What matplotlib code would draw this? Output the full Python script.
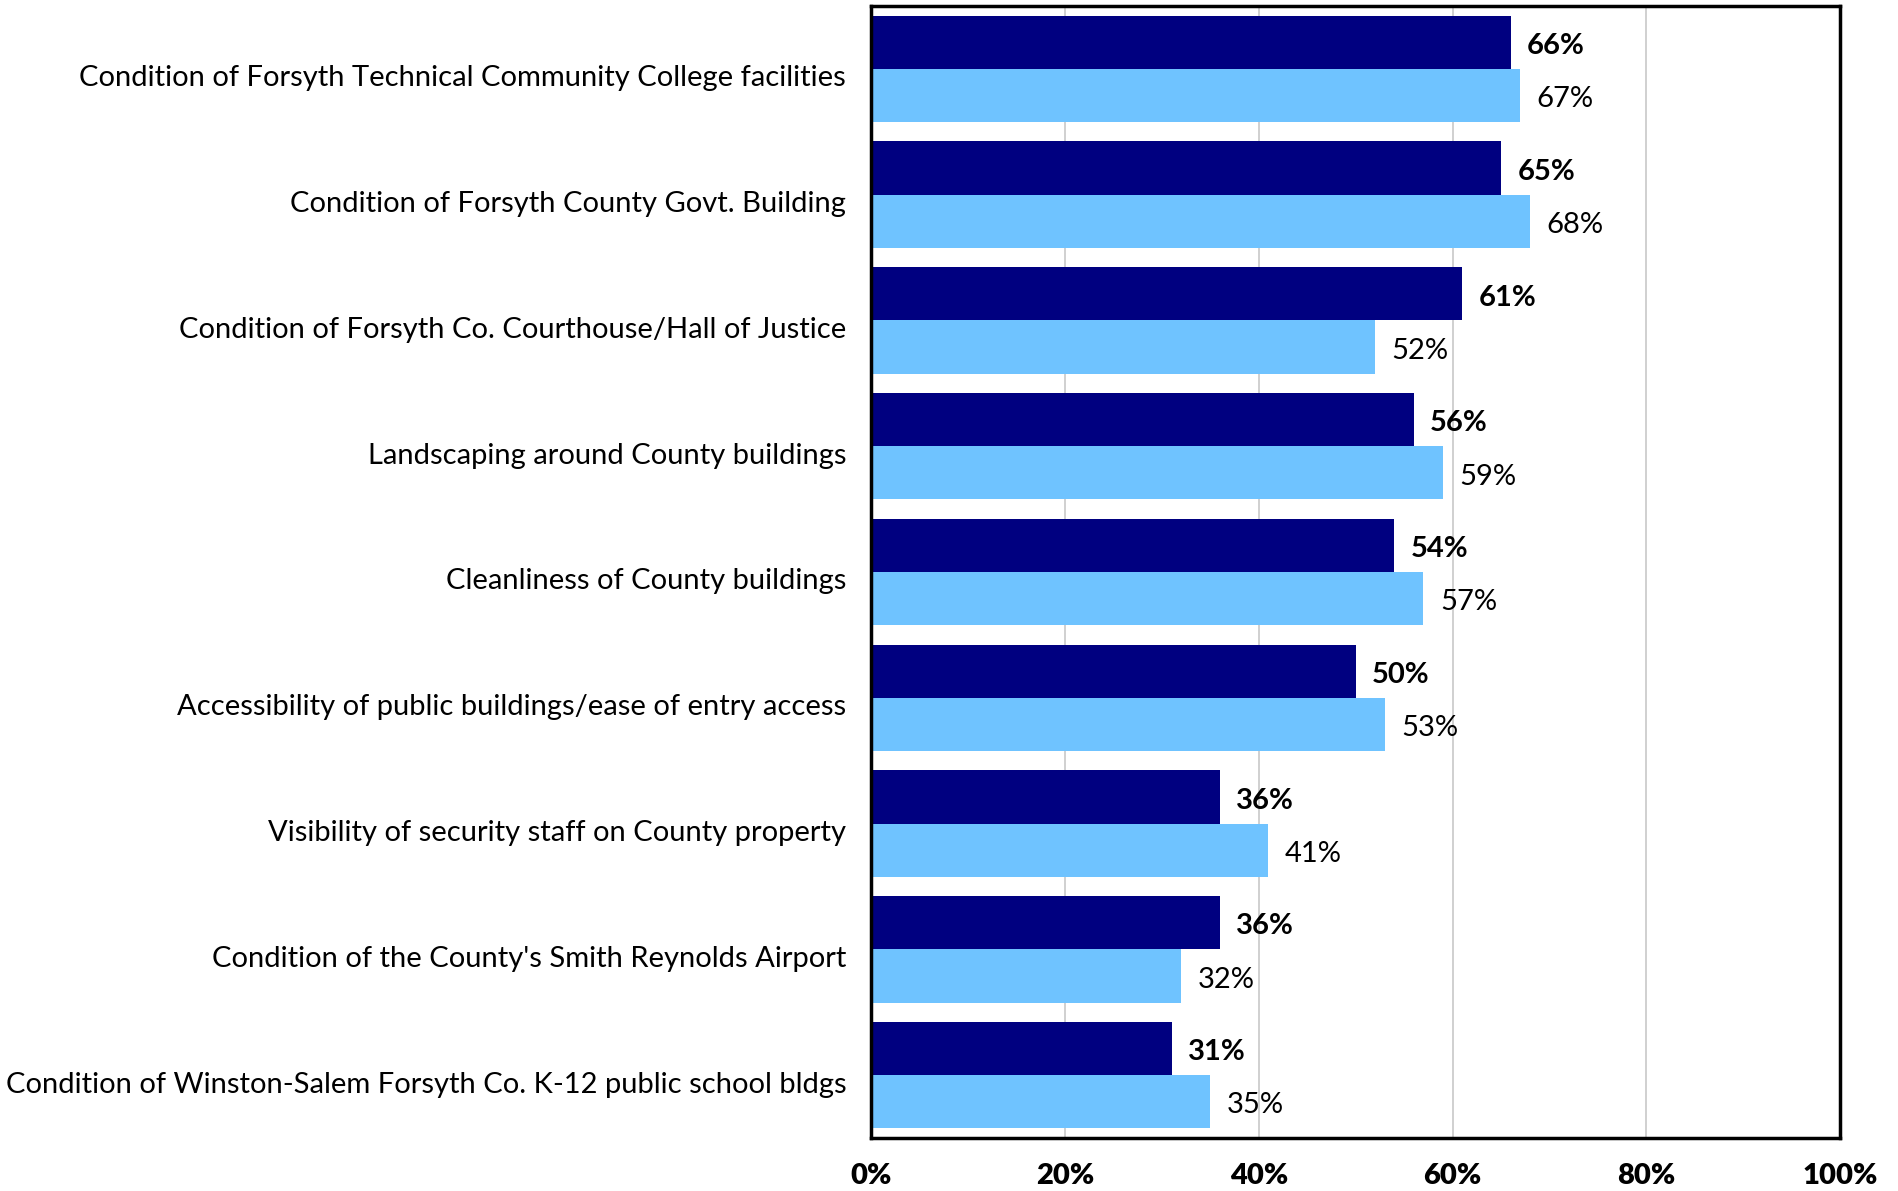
import numpy as np
import matplotlib.pyplot as plt

categories = [
    "Condition of Forsyth Technical Community College facilities",
    "Condition of Forsyth County Govt. Building",
    "Condition of Forsyth Co. Courthouse/Hall of Justice",
    "Landscaping around County buildings",
    "Cleanliness of County buildings",
    "Accessibility of public buildings/ease of entry access",
    "Visibility of security staff on County property",
    "Condition of the County's Smith Reynolds Airport",
    "Condition of Winston-Salem Forsyth Co. K-12 public school bldgs",
]
dark_vals = [66, 65, 61, 56, 54, 50, 36, 36, 31]
light_vals = [67, 68, 52, 59, 57, 53, 41, 32, 35]
xticks = [0, 20, 40, 60, 80, 100]

plt.rcParams['font.family'] = ['Lato', 'DejaVu Sans']

fig = plt.figure(figsize=(18.98, 11.91), dpi=100)
ax = fig.add_axes([0.459, 0.0445, 0.5105, 0.9505])

n = len(categories)
y = np.arange(n)[::-1].astype(float)
h = 0.423

ax.barh(y + h / 2, dark_vals, height=h, color='#000080', zorder=2)
ax.barh(y - h / 2, light_vals, height=h, color='#6FC3FF', zorder=2)

# small downward nudge so the text sits on the bar centre
dy = 0.03
for yi, d, l in zip(y, dark_vals, light_vals):
    ax.text(d + 1.7, yi + h / 2 - dy, f"{d}%", va='center', ha='left',
            fontsize=21, fontweight='bold', color='black')
    ax.text(l + 1.7, yi - h / 2 - dy, f"{l}%", va='center', ha='left',
            fontsize=21, color='black')

ax.set_xlim(0, 100)
ax.set_ylim(-0.5, n - 0.5)
ax.set_xticks(xticks)
ax.set_xticklabels([f"{t}%" for t in xticks], fontsize=21, fontweight='heavy')
ax.set_yticks(y - 0.055)
ax.set_yticklabels(categories, fontsize=21)
ax.tick_params(axis='both', length=0)
ax.tick_params(axis='y', pad=18)
ax.tick_params(axis='x', pad=18)
ax.xaxis.grid(True, color='#c8c8c8', linewidth=1.2, zorder=0)
ax.set_axisbelow(True)
for s in ax.spines.values():
    s.set_linewidth(2.5)
    s.set_color('black')

fig.savefig('out.png', dpi=100)
